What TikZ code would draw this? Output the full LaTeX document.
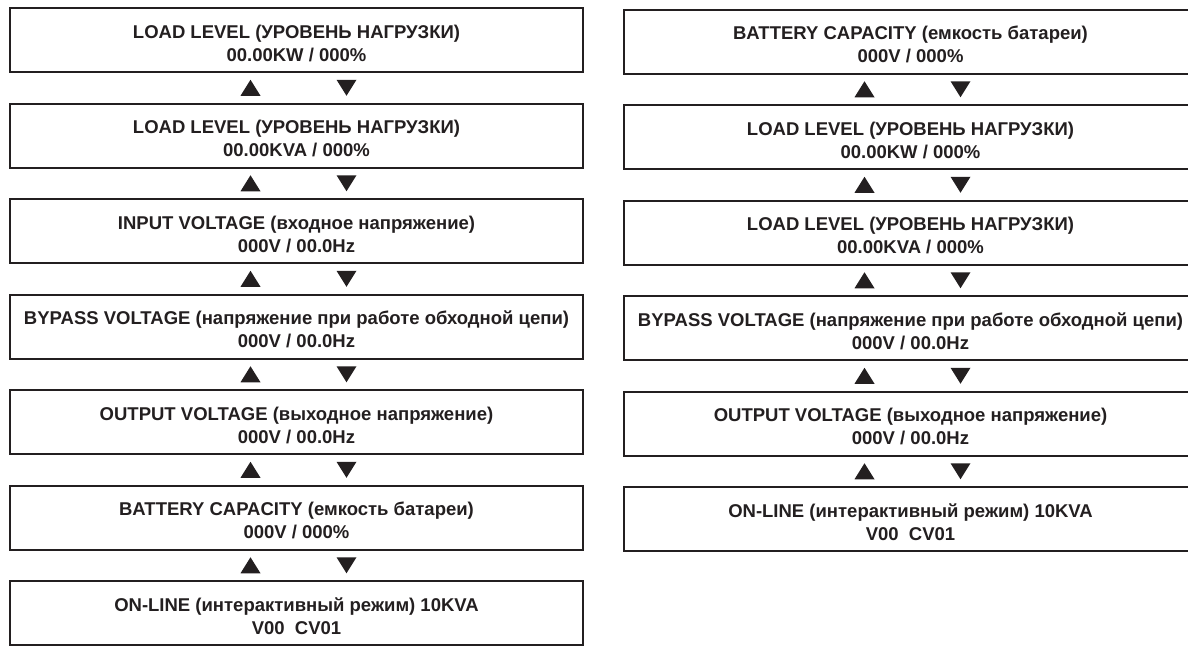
\documentclass[tikz,border=0pt]{standalone}
\usepackage{fontspec}
\setmainfont{Liberation Sans}
\usetikzlibrary{calc}
\definecolor{ink}{RGB}{35,31,32}
\newcommand\lnA{\rule{0pt}{24pt}}
\newcommand\lnB{\rule[-5pt]{0pt}{5pt}}
\tikzset{
  screen/.style={draw=ink, line width=2pt, minimum width=573pt, minimum height=64pt,
    inner sep=0pt, align=center, font=\fontsize{18.5}{23}\selectfont\bfseries,
    text=ink},
  uptri/.pic={\fill[ink] (-10,8) -- (10,8) -- (0,-8) -- cycle;},
  dntri/.pic={\fill[ink] (-10,-8) -- (10,-8) -- (0,8) -- cycle;}
}
\begin{document}
\begin{tikzpicture}[x=1pt,y=-1pt]
\fill[white] (0,0) rectangle (1188,649);
\useasboundingbox (0,0) rectangle (1188,649);
% left column
\node[screen] (L1) at (296.5,40)    {\lnA LOAD LEVEL (УРОВЕНЬ НАГРУЗКИ)\\00.00KW / 000\%\lnB};
\node[screen] (L2) at (296.5,135.5) {\lnA LOAD LEVEL (УРОВЕНЬ НАГРУЗКИ)\\00.00KVA / 000\%\lnB};
\node[screen] (L3) at (296.5,231)   {\lnA INPUT VOLTAGE (входное напряжение)\\000V / 00.0Hz\lnB};
\node[screen] (L4) at (296.5,326.5) {\lnA BYPASS VOLTAGE (напряжение при работе обходной цепи)\\000V / 00.0Hz\lnB};
\node[screen] (L5) at (296.5,422)   {\lnA OUTPUT VOLTAGE (выходное напряжение)\\000V / 00.0Hz\lnB};
\node[screen] (L6) at (296.5,517.5) {\lnA BATTERY CAPACITY (емкость батареи)\\000V / 000\%\lnB};
\node[screen] (L7) at (296.5,613)   {\lnA ON-LINE (интерактивный режим) 10KVA\\V00\ \ CV01\lnB};
% right column
\node[screen] (R1) at (910.5,41.5)  {\lnA BATTERY CAPACITY (емкость батареи)\\000V / 000\%\lnB};
\node[screen] (R2) at (910.5,137)   {\lnA LOAD LEVEL (УРОВЕНЬ НАГРУЗКИ)\\00.00KW / 000\%\lnB};
\node[screen] (R3) at (910.5,232.5) {\lnA LOAD LEVEL (УРОВЕНЬ НАГРУЗКИ)\\00.00KVA / 000\%\lnB};
\node[screen] (R4) at (910.5,328)   {\lnA BYPASS VOLTAGE (напряжение при работе обходной цепи)\\000V / 00.0Hz\lnB};
\node[screen] (R5) at (910.5,423.5) {\lnA OUTPUT VOLTAGE (выходное напряжение)\\000V / 00.0Hz\lnB};
\node[screen] (R6) at (910.5,519)   {\lnA ON-LINE (интерактивный режим) 10KVA\\V00\ \ CV01\lnB};
% navigation triangles
\foreach \a/\b in {L1/L2,L2/L3,L3/L4,L4/L5,L5/L6,L6/L7,R1/R2,R2/R3,R3/R4,R4/R5,R5/R6}{
  \path ($(\a.south)!0.5!(\b.north)$) +(-46,0) pic{uptri} +(50,0) pic{dntri};
}
\end{tikzpicture}
\end{document}
